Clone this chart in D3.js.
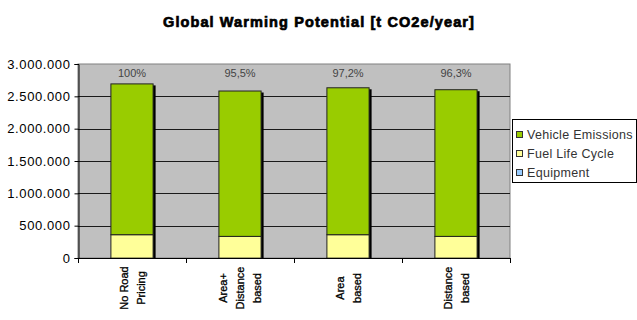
<!DOCTYPE html>
<html>
<head>
<meta charset="utf-8">
<script src="https://cdn.jsdelivr.net/npm/d3@7/dist/d3.min.js"></script>
<style>
  body { margin: 0; background: #fff; }
  text { font-family: "Liberation Sans", Arial, sans-serif; }
</style>
</head>
<body>
<div id="vis"></div>
<script>
// data
var categories = [["No Road", "Pricing"], ["Area+", "Distance", "based"], ["Area", "based"], ["Distance", "based"]];
var seriesNames = ["Equipment", "Fuel Life Cycle", "Vehicle Emissions"];
var equipment = [6000, 6000, 6000, 6000];
var fuelLifeCycle = [362000, 336000, 362000, 336000];
var vehicleEmissions = [2332000, 2248000, 2272000, 2268000];
var pctLabels = ["100%", "95,5%", "97,2%", "96,3%"];
var yTicks = [0, 500000, 1000000, 1500000, 2000000, 2500000, 3000000];
var colors = { "Equipment": "#99ccff", "Fuel Life Cycle": "#ffff99", "Vehicle Emissions": "#99cc00" };

var W = 637, H = 320;
var plot = { left: 78, right: 510, top: 64, bottom: 258 };

var svg = d3.select("#vis").append("svg")
  .attr("width", W)
  .attr("height", H);

// title
svg.append("text")
  .attr("x", 319)
  .attr("y", 27)
  .attr("text-anchor", "middle")
  .style("font-size", "14.5px")
  .style("font-weight", "bold")
  .style("letter-spacing", "1.1px")
  .attr("stroke", "#000")
  .attr("stroke-width", 0.7)
  .text("Global Warming Potential [t CO2e/year]");

var keys = categories.map(function(c) { return c.join(" "); });

var x = d3.scaleBand()
  .domain(keys)
  .range([plot.left, plot.right])
  .paddingInner(0.6)
  .paddingOuter(0.3);

var y = d3.scaleLinear()
  .domain([0, 3000000])
  .range([plot.bottom, plot.top]);

// plot background
svg.append("rect")
  .attr("x", plot.left)
  .attr("y", plot.top)
  .attr("width", plot.right - plot.left)
  .attr("height", plot.bottom - plot.top)
  .attr("fill", "#c0c0c0")
  .attr("stroke", "#808080")
  .attr("stroke-width", 1);

// gridlines
svg.append("g")
  .selectAll("line")
  .data(yTicks.slice(1, -1))
  .join("line")
  .attr("x1", plot.left)
  .attr("x2", plot.right)
  .attr("y1", function(d) { return Math.round(y(d)) + 0.5; })
  .attr("y2", function(d) { return Math.round(y(d)) + 0.5; })
  .attr("stroke", "#1a1a1a")
  .attr("stroke-width", 1);

// stacked data
var table = keys.map(function(k, i) {
  return { key: k, "Equipment": equipment[i], "Fuel Life Cycle": fuelLifeCycle[i], "Vehicle Emissions": vehicleEmissions[i] };
});
var stacked = d3.stack().keys(seriesNames)(table);

function total(d) { return d["Equipment"] + d["Fuel Life Cycle"] + d["Vehicle Emissions"]; }

// shadows
svg.append("g")
  .selectAll("rect")
  .data(table)
  .join("rect")
  .attr("x", function(d) { return x(d.key) + 2; })
  .attr("y", function(d) { return y(total(d)) + 2; })
  .attr("width", x.bandwidth())
  .attr("height", function(d) { return plot.bottom - 2 - y(total(d)); })
  .attr("fill", "#000");

svg.append("g")
  .selectAll("g")
  .data(stacked)
  .join("g")
  .attr("fill", function(s) { return colors[s.key]; })
  .selectAll("rect")
  .data(function(s) { return s; })
  .join("rect")
  .attr("x", function(d) { return x(d.data.key) + 0.5; })
  .attr("y", function(d) { return y(d[1]) + 0.5; })
  .attr("width", x.bandwidth() - 1)
  .attr("height", function(d) { return Math.max(0, y(d[0]) - y(d[1])); })
  .attr("stroke", "#222")
  .attr("stroke-width", 1);

// percentage labels
svg.append("g")
  .selectAll("text")
  .data(pctLabels)
  .join("text")
  .attr("x", function(d, i) { return x(keys[i]) + x.bandwidth() / 2; })
  .attr("y", 77)
  .attr("text-anchor", "middle")
  .style("font-size", "11px")
  .attr("fill", "#444")
  .text(function(d) { return d; });

// y axis
var fmt = d3.formatLocale({ decimal: ",", thousands: ".", grouping: [3], currency: ["", ""] }).format(",d");
svg.append("g")
  .attr("transform", "translate(" + (plot.left + 0.5) + ",0)")
  .call(d3.axisLeft(y).tickValues(yTicks).tickFormat(fmt).tickSize(4).tickPadding(4))
  .call(function(g) {
    g.select(".domain").attr("stroke", "#000");
    g.selectAll(".tick line").attr("stroke", "#000");
    g.selectAll("text").style("font-size", "13px").style("letter-spacing", "0.6px").attr("fill", "#000")
      .style("font-family", "\"Liberation Sans\", Arial, sans-serif");
  });

// x axis
var boundaries = [plot.left].concat(keys.map(function(k) { return x(k) + x.bandwidth() / 2 + x.step() / 2; }));
var xAxis = svg.append("g");
xAxis.append("line")
  .attr("x1", plot.left)
  .attr("x2", plot.right)
  .attr("y1", plot.bottom + 0.5)
  .attr("y2", plot.bottom + 0.5)
  .attr("stroke", "#000");
xAxis.selectAll(".tk")
  .data(boundaries)
  .join("line")
  .attr("class", "tk")
  .attr("x1", function(d) { return Math.round(d) + 0.5; })
  .attr("x2", function(d) { return Math.round(d) + 0.5; })
  .attr("y1", plot.bottom)
  .attr("y2", plot.bottom + 5)
  .attr("stroke", "#000");

// category labels, rotated
var lineGap = 17;
categories.forEach(function(lines, i) {
  var cx = x(keys[i]) + x.bandwidth() / 2;
  var n = lines.length;
  lines.forEach(function(line, j) {
    var lx = cx + (j - (n - 1) / 2) * lineGap + 4;
    svg.append("text")
      .attr("transform", "translate(" + lx + ",288) rotate(-90)")
      .attr("text-anchor", "middle")
      .style("font-size", "11px")
      .attr("fill", "#000")
      .attr("stroke", "#000")
      .attr("stroke-width", 0.3)
      .text(line);
  });
});

// legend
var legend = svg.append("g");
legend.append("rect")
  .attr("x", 512.5)
  .attr("y", 119.5)
  .attr("width", 124)
  .attr("height", 63)
  .attr("fill", "#fff")
  .attr("stroke", "#000");
var legendOrder = ["Vehicle Emissions", "Fuel Life Cycle", "Equipment"];
var legendY = d3.scalePoint().domain(legendOrder).range([135, 173]);
legend.selectAll("rect.sw")
  .data(legendOrder)
  .join("rect")
  .attr("class", "sw")
  .attr("x", 516.5)
  .attr("y", function(d) { return legendY(d) - 3.5; })
  .attr("width", 6)
  .attr("height", 6)
  .attr("fill", function(d) { return colors[d]; })
  .attr("stroke", "#333");
legend.selectAll("text")
  .data(legendOrder)
  .join("text")
  .attr("x", 527)
  .attr("y", function(d) { return legendY(d) + 4; })
  .style("font-size", "12.5px")
  .style("letter-spacing", "0.3px")
  .attr("fill", "#333")
  .text(function(d) { return d; });
</script>
</body>
</html>
